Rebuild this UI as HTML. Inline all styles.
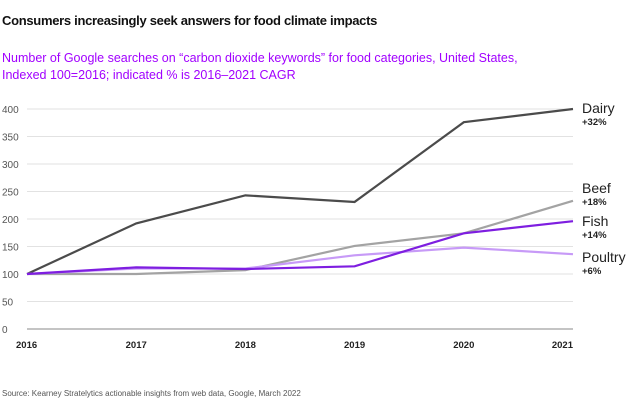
<!DOCTYPE html>
<html><head><meta charset="utf-8"><style>
body{margin:0;width:640px;height:402px;background:#fff;font-family:"Liberation Sans",sans-serif;overflow:hidden;position:relative}
.t{position:absolute;left:2px;top:13px;font-size:13px;font-weight:bold;color:#111;letter-spacing:-0.3px}
.s{position:absolute;left:2px;top:50px;font-size:12.5px;line-height:17px;color:#a100ff}
.src{position:absolute;left:2px;top:389px;font-size:8px;color:#555}
svg{position:absolute;left:0;top:0}
</style></head><body>
<div class="t">Consumers increasingly seek answers for food climate impacts</div>
<div class="s">Number of Google searches on “carbon dioxide keywords” for food categories, United States,<br>Indexed 100=2016; indicated % is 2016–2021 CAGR</div>
<div class="src">Source: Kearney Stratelytics actionable insights from web data, Google, March 2022</div>
<svg id="c" width="640" height="402"></svg>
<script>
const years=["2016","2017","2018","2019","2020","2021"];
const yTicks=[0,50,100,150,200,250,300,350,400];
const dairy=[100,192,243,231,376,400];
const beef=[100,100,107,151,174,233];
const fish=[100,112,109,114,174,196];
const poultry=[100,110,110,134,148,136];
const names=["Dairy","Beef","Fish","Poultry"];
const cagr=["+32%","+18%","+14%","+6%"];
const NS="http://www.w3.org/2000/svg";
const svg=document.getElementById('c');
const X=i=>27+i*(573-27)/(years.length-1);
const Y=v=>329-v*0.55;
function mk(t,a){const e=document.createElementNS(NS,t);for(const k in a)e.setAttribute(k,a[k]);svg.appendChild(e);return e;}
yTicks.forEach(v=>{
  const l=mk('line',{x1:27,x2:573,y1:Y(v),y2:Y(v),stroke:v===0?'#888':'#e2e2e2','stroke-width':1});
  
  
  const t=mk('text',{x:2,y:Y(v)+4,'font-size':10,fill:'#555'});t.textContent=v;
  
  
});
years.forEach((y,i)=>{
  const t=mk('text',{x:X(i),y:348,'font-size':9.5,'font-weight':'bold',fill:'#222','text-anchor':i===0?'start':(i===years.length-1?'end':'middle')});
  if(i===0)t.setAttribute('x',16);
  t.textContent=y;
  
  
});
const series=[[dairy,'#4b4b4b'],[beef,'#a3a3a3'],[poultry,'#c79af7'],[fish,'#7e1ee0']];
series.forEach(([d,c])=>{
  const p=mk('polyline',{points:d.map((v,i)=>X(i)+','+Y(v)).join(' '),fill:'none',stroke:c,'stroke-width':2.2});
  
  
});
const labY=[113,193,226,262];
names.forEach((n,i)=>{
  const t=mk('text',{x:582,y:labY[i],'font-size':14,fill:'#222'});t.textContent=n;
  
  
  const s=mk('text',{x:582,y:labY[i]+12,'font-size':9.5,'font-weight':'bold',fill:'#222'});s.textContent=cagr[i];
  
  
});
</script>
</body></html>
